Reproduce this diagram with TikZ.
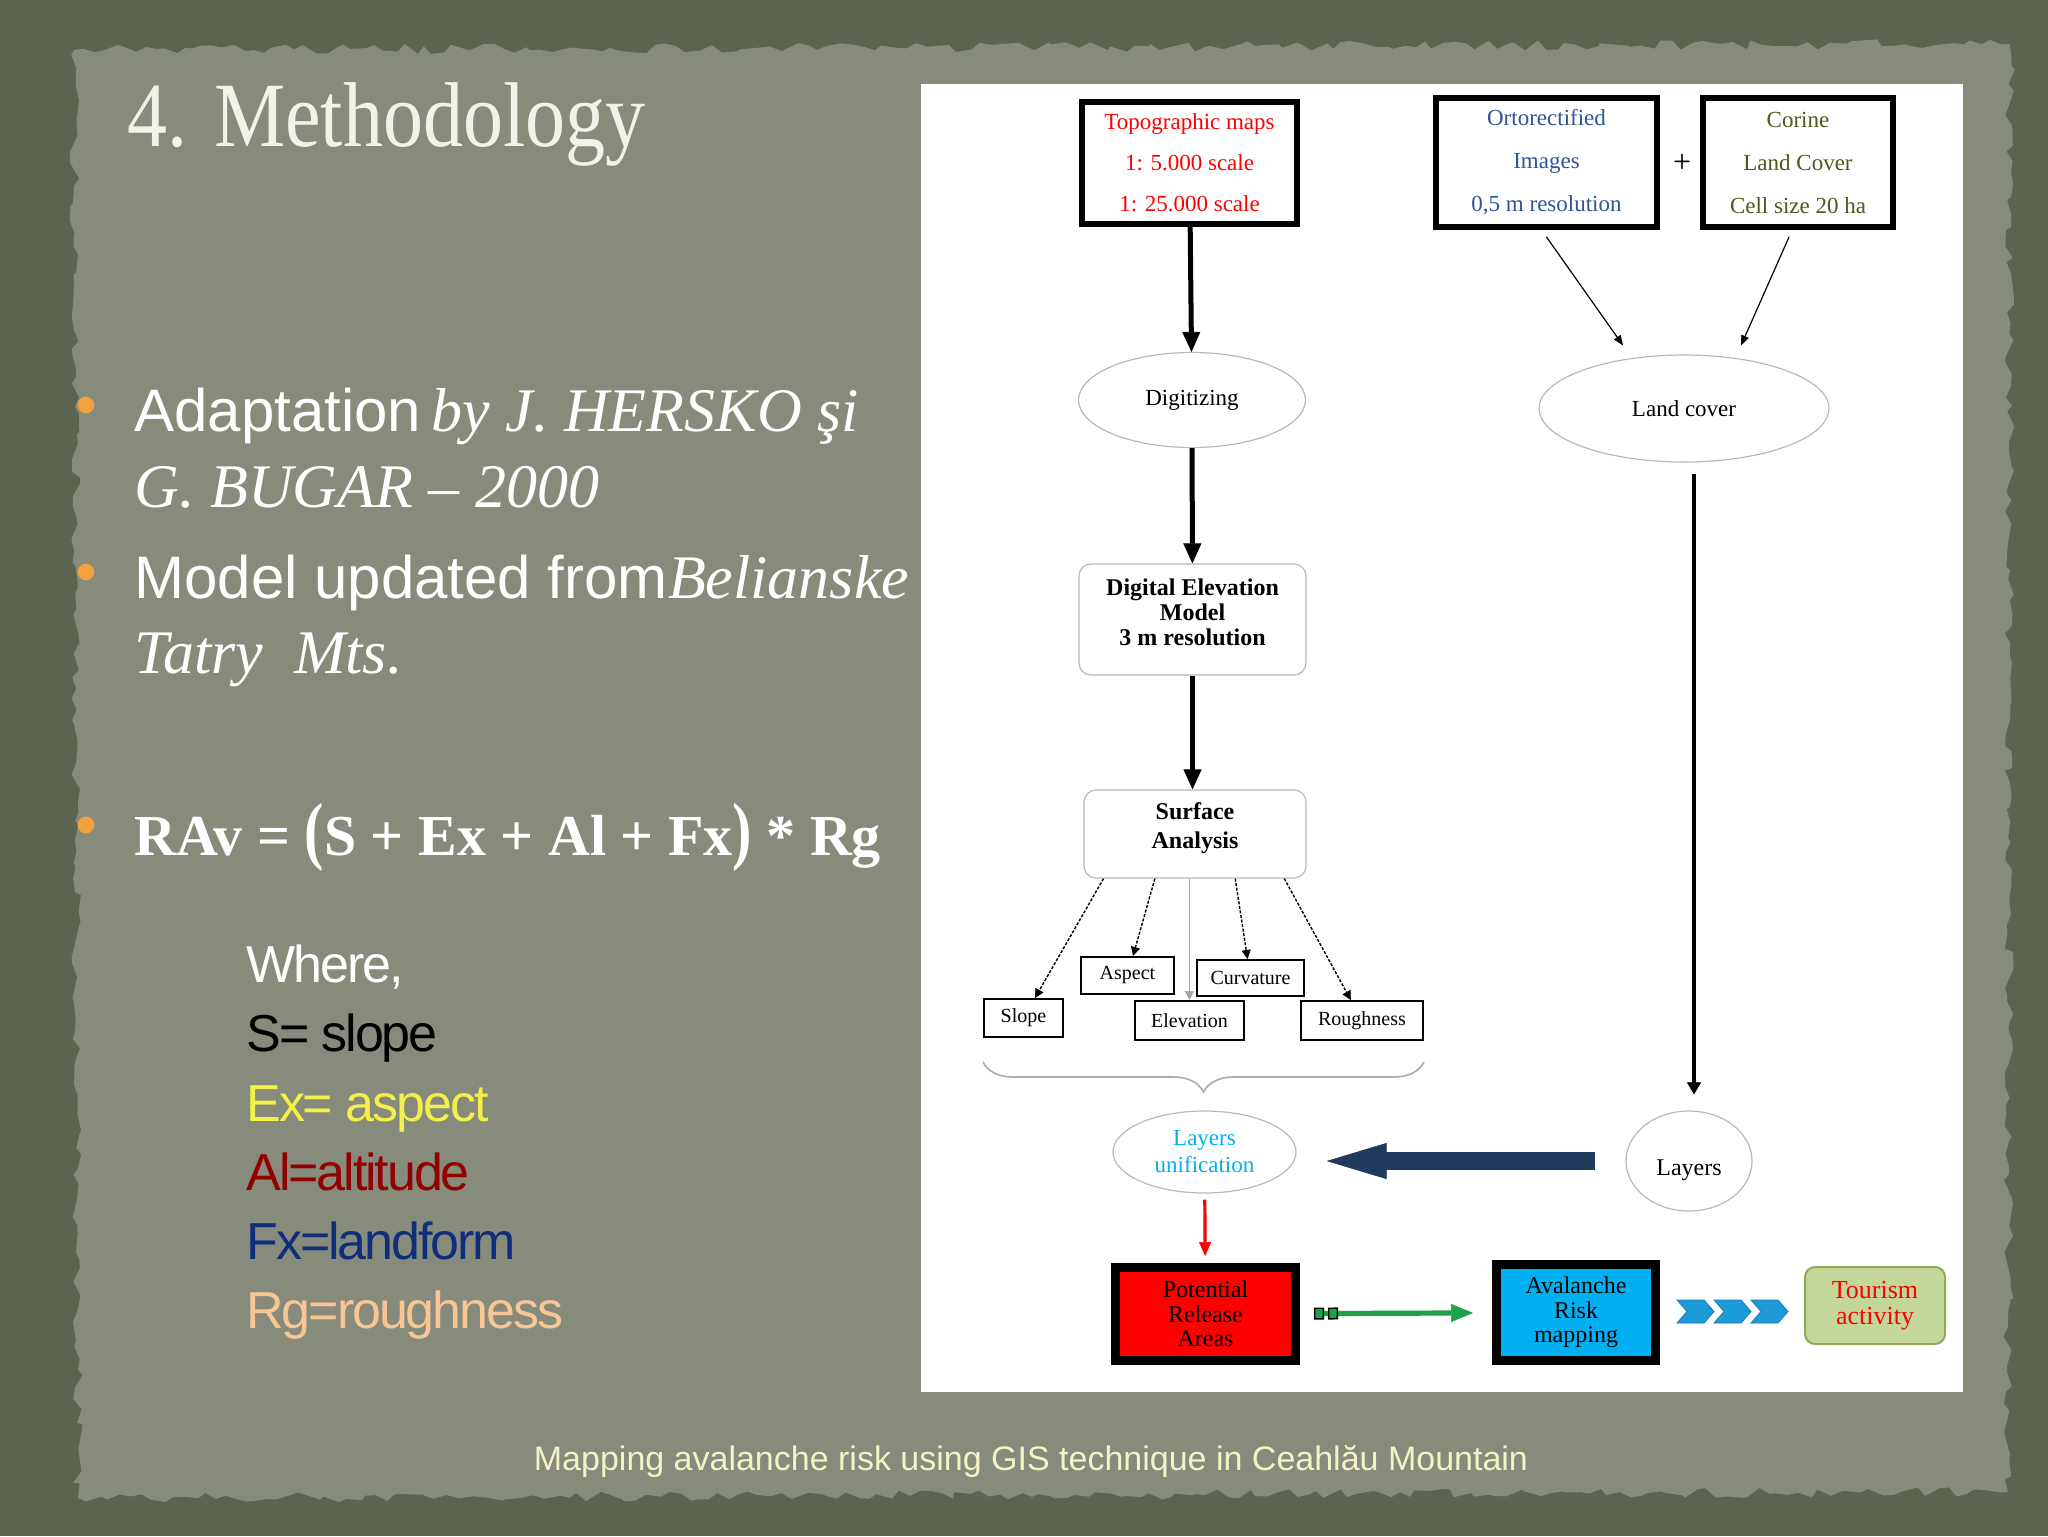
\documentclass[tikz,border=0pt]{standalone}
\usepackage{fontspec}
\setmainfont{Liberation Serif}
\newfontfamily\plainsans{Liberation Sans}
\newfontfamily\wheresans[LetterSpace=-4]{Liberation Sans}
\usetikzlibrary{shapes.geometric,arrows.meta,calc,decorations.pathmorphing,decorations.pathreplacing}
\definecolor{frameC}{HTML}{5D6351}
\definecolor{panelC}{HTML}{868B7C}
\definecolor{titleC}{HTML}{F2F2EA}
\definecolor{bulletC}{HTML}{F2A23C}
\definecolor{exC}{HTML}{F5EF4A}
\definecolor{alC}{HTML}{940000}
\definecolor{fxC}{HTML}{102F7A}
\definecolor{rgC}{HTML}{F8C595}
\definecolor{footC}{HTML}{F3F3C3}
\definecolor{orthoC}{HTML}{2E5597}
\definecolor{corC}{HTML}{4B5A1E}
\definecolor{cyanC}{HTML}{00B0F0}
\definecolor{navyC}{HTML}{1F3A5C}
\definecolor{greenC}{HTML}{1FA14A}
\definecolor{chevC}{HTML}{1E9AD8}
\definecolor{tourC}{HTML}{C4D79B}
\definecolor{tourD}{HTML}{8FAA58}
\begin{document}
\begin{tikzpicture}[x=0.5pt,y=-0.5pt,
  srcbox/.style={draw, line width=2.8pt, fill=white, align=center, inner sep=0pt,
    minimum height=64.7pt, font=\fontsize{11.5}{21.5}\selectfont},
  oval/.style={ellipse, draw=gray!55, line width=0.6pt, inner sep=0pt, align=center,
    font=\fontsize{11.5}{13.5}\selectfont},
  roundbox/.style={rectangle, rounded corners=6pt, draw=gray!55, line width=0.6pt,
    align=center, inner sep=0pt, font=\bfseries\fontsize{12}{12.5}\selectfont},
  layerbox/.style={draw, line width=1pt, inner sep=0pt, font=\fontsize{10}{10}\selectfont},
  outbox/.style={draw, line width=4.3pt, align=center, inner sep=0pt,
    font=\fontsize{12}{12.3}\selectfont},
  downarrow/.style={line width=2.5pt, -{Triangle[width=9pt,length=10pt,line width=0.4pt]}},
  thinarrow/.style={line width=0.6pt, -{Triangle[width=4pt,length=5pt,line width=0.3pt]}},
  dotarrow/.style={line width=0.7pt, dash pattern=on 1.5pt off 0.8pt,
    -{Triangle[width=4.5pt,length=4.5pt,line width=0.3pt]}},
  greenarrow/.style={draw=greenC, line width=2.6pt,
    {Square[length=5pt,width=6pt,sep=1pt,line width=0.7pt,color=black,fill=greenC]Square[length=5pt,width=6pt,sep=2pt,line width=0.7pt,color=black,fill=greenC]}-{Triangle[width=9pt,length=11pt,line width=0.3pt]}},
  navyarrow/.style={draw=navyC, line width=9pt, -{Triangle[width=18pt,length=30pt,line width=0.3pt]}},
  bracestyle/.style={draw=gray!65, line width=0.8pt, decorate,
    decoration={brace, mirror, amplitude=15pt}},
  leftline/.style={anchor=base west, inner sep=0pt, text=white, font=\fontsize{31}{31}\selectfont},
  whereline/.style={anchor=base west, inner sep=0pt, font=\wheresans\fontsize{26}{26}\selectfont}]
  \useasboundingbox (0,0) rectangle (2048,1536);

  % sfondo
  \fill[frameC] (0,0) rectangle (2048,1536);
  \pgfmathsetseed{7}
  \fill[panelC, decorate, decoration={random steps, segment length=5pt, amplitude=2.5pt}]
    (74,50) -- (2010,44) -- (2008,1492) -- (78,1498) -- cycle;
  \fill[white] (921,84) rectangle (1963,1392);

  % titolo e testo a sinistra
  \node[anchor=base west, inner sep=0pt, text=titleC, font=\fontsize{46}{46}\selectfont] (title)
    at (127,146) {\scalebox{0.87}[1]{4. Methodology}};
  \foreach \yb in {405,572,825}
    \fill[bulletC] (86,\yb) circle (4.2pt);
  \node[leftline] (adapt) at (134,431)
    {{\plainsans\fontsize{30}{30}\selectfont Adaptation}\,\textit{by J. HERSKO şi}};
  \node[leftline] (bugar) at (134,507) {\textit{G. BUGAR – 2000}};
  \node[leftline] (model) at (134,598)
    {{\plainsans\fontsize{30}{30}\selectfont Model updated from}\textit{Belianske}};
  \node[leftline] (tatry) at (134,673) {\textit{Tatry\ \ Mts.}};
  \node[anchor=base west, inner sep=0pt, text=white, font=\bfseries\fontsize{29}{29}\selectfont]
    (ravform) at (134,855)
    {RAv = \scalebox{1}[1.3]{(}S + Ex + Al + Fx\scalebox{1}[1.3]{)} * Rg};
  \node[whereline, text=white] (where) at (246,982) {Where,};
  \node[whereline, text=black] (wslope) at (246,1051) {S= slope};
  \node[whereline, text=exC] (waspect) at (246,1121) {Ex= aspect};
  \node[whereline, text=alC] (walt) at (246,1190) {Al=altitude};
  \node[whereline, text=fxC] (wland) at (246,1259) {Fx=landform};
  \node[whereline, text=rgC] (wrough) at (246,1328) {Rg=roughness};

  % schema
  \node[srcbox, text=red, minimum width=107.5pt, minimum height=61pt,
    font=\fontsize{11.5}{20.5}\selectfont] (topo) at (1189.5,163)
    {Topographic maps\\1: 5.000 scale\\1: 25.000 scale};
  \node[srcbox, text=orthoC, minimum width=110.7pt] (ortho) at (1546.5,162.5)
    {Ortorectified\\Images\\0,5 m resolution};
  \node[srcbox, text=corC, minimum width=95.2pt] (corine) at (1798,162.5)
    {Corine\\Land Cover\\Cell size 20 ha};
  \node[font=\fontsize{16}{16}\selectfont] (plus) at (1682,163) {+};

  \node[oval, minimum width=113.5pt, minimum height=47.5pt] (dig) at (1192,400) {Digitizing};
  \node[oval, minimum width=145pt, minimum height=53.5pt] (lc) at (1684,408.5) {Land cover};
  \node[roundbox, minimum width=113.5pt, minimum height=55.5pt, text depth=7pt] (dem)
    at (1192.5,619.5) {Digital Elevation\\Model\\3 m resolution};
  \node[roundbox, minimum width=111pt, minimum height=44pt, text depth=8pt,
    font=\bfseries\fontsize{12}{14.5}\selectfont] (surf) at (1195,834) {Surface\\Analysis};

  \node[layerbox, minimum width=39.5pt, minimum height=19pt] (slope) at (1023.5,1018) {Slope};
  \node[layerbox, minimum width=46.5pt, minimum height=18.5pt] (aspect) at (1127.5,975.5) {Aspect};
  \node[layerbox, minimum width=54.5pt, minimum height=19.5pt] (elev) at (1189.5,1020.5) {Elevation};
  \node[layerbox, minimum width=53.5pt, minimum height=18pt] (curv) at (1250.5,978) {Curvature};
  \node[layerbox, minimum width=61pt, minimum height=19.5pt] (rough) at (1362,1020.5) {Roughness};

  \node[oval, text=cyanC, minimum width=91.5pt, minimum height=41pt] (lu) at (1204.5,1152)
    {Layers\\unification};
  \node[oval, minimum width=63pt, minimum height=50pt, text height=17pt,
    font=\fontsize{12}{12}\selectfont] (lay) at (1689,1161) {Layers};

  \node[outbox, fill=red, minimum width=90.2pt, minimum height=46.7pt] (pra) at (1205.5,1314)
    {Potential\\Release\\Areas};
  \node[outbox, fill=cyanC, minimum width=79.7pt, minimum height=48.2pt] (arm) at (1576,1312.5)
    {Avalanche\\Risk\\mapping};
  \node[rectangle, rounded corners=5pt, draw=tourD, fill=tourC, line width=1pt, text=red,
    align=center, inner sep=0pt, minimum width=70pt, minimum height=38.5pt,
    font=\fontsize{13}{13}\selectfont] (tour) at (1875,1305.5) {Tourism\\activity};

  % frecce
  \draw[downarrow] (topo) -- (dig);
  \draw[downarrow] (dig) -- (dem);
  \draw[downarrow] (dem.south) -- (dem.south |- surf.north);
  \draw[thinarrow] ([yshift=-3.5pt]ortho.south) -- ([xshift=-30.5pt,yshift=4.5pt]lc.north);
  \draw[thinarrow] ([xshift=-4.5pt,yshift=-3.5pt]corine.south) -- ([xshift=28.5pt,yshift=4.5pt]lc.north);
  \draw[line width=2pt, shorten <=5.5pt, shorten >=8pt,
    -{Triangle[width=7pt,length=6pt,line width=0.3pt]}]
    ([xshift=5pt]lc.south) -- ([xshift=5pt]lc.south |- lay.north);
  \foreach \f/\t in {0.09/slope, 0.32/aspect, 0.68/curv, 0.9/rough}
    \draw[dotarrow] ($(surf.south west)!\f!(surf.south east)$) -- (\t);
  \draw[draw=gray!70, line width=0.9pt, -{Triangle[width=4.5pt,length=4.5pt,line width=0.3pt]}]
    (surf.south -| elev) -- (elev.north);
  \draw[bracestyle] (983,1062) -- (1424,1062);
  \draw[navyarrow, shorten <=15pt, shorten >=15pt] (lay.west) -- (lay.west -| lu.east);
  \draw[draw=red, line width=1.6pt, shorten <=3pt, shorten >=3.5pt,
    -{Triangle[width=6pt,length=7pt,line width=0.3pt]}] (lu) -- (pra);
  \draw[greenarrow, shorten <=6pt, shorten >=9.5pt] (pra) -- (arm);
  \foreach \i in {0,1,2}
    \filldraw[fill=chevC, draw=chevC!80!black, line width=0.4pt]
      (1677+37*\i,1300) -- ++(27,0) -- ++(10,11.5) -- ++(-10,11.5) -- ++(-27,0) -- ++(10,-11.5) -- cycle;

  % pie di pagina
  \node[anchor=base, text=footC, font=\plainsans\fontsize{17}{17}\selectfont] (footer) at (1031,1470)
    {Mapping avalanche risk using GIS technique in Ceahlău Mountain};
\end{tikzpicture}
\end{document}
